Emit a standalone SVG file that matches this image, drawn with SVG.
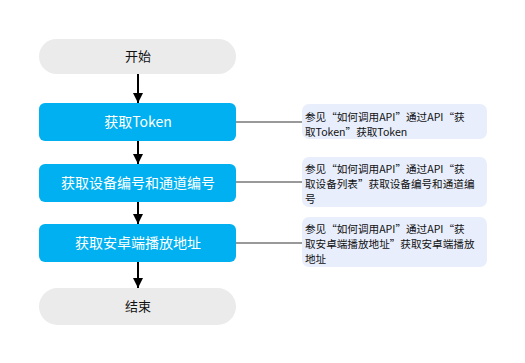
<svg xmlns="http://www.w3.org/2000/svg" width="525" height="363" viewBox="0 0 525 363">
<defs>
<marker id="ah" viewBox="0 0 10 10" refX="10" refY="5" markerWidth="10" markerHeight="10" markerUnits="userSpaceOnUse" orient="auto">
<path d="M0,0 L10,5 L0,10 z" fill="#000"/>
</marker>
<style>
.term{fill:#ebebeb;}
.proc{fill:#00b0f0;}
.note{fill:#e8eefc;}
.tt{font-family:"Noto Sans CJK SC","Noto Sans",sans-serif;font-size:13px;fill:#111;text-anchor:middle;}
.pt{font-family:"Noto Sans CJK SC","Noto Sans",sans-serif;font-size:14px;fill:#fff;text-anchor:middle;}
.nt{font-family:"Noto Sans CJK SC","Noto Sans",sans-serif;font-size:10.6px;fill:#111;}
.arr{stroke:#000;stroke-width:2;fill:none;marker-end:url(#ah);}
.lnk{stroke:#999;stroke-width:2;fill:none;}
</style>
</defs>
<rect width="525" height="363" fill="#fff"/>
<g id="connectors">
<line class="arr" x1="138" y1="74" x2="138" y2="103"/>
<line class="arr" x1="138" y1="141" x2="138" y2="164"/>
<line class="arr" x1="138" y1="202" x2="138" y2="224"/>
<line class="arr" x1="138" y1="262" x2="138" y2="288"/>
<line class="lnk" x1="236" y1="122" x2="302" y2="122"/>
<line class="lnk" x1="236" y1="182" x2="302" y2="182"/>
<line class="lnk" x1="236" y1="243" x2="302" y2="243"/>
</g>
<g id="start">
<rect class="term" x="39" y="39" width="197" height="35" rx="17.5"/>
<text class="tt" x="138" y="61">开始</text>
</g>
<g id="token">
<rect class="proc" x="39" y="103" width="197" height="38" rx="6"/>
<text class="pt" x="138" y="127">获取Token</text>
</g>
<g id="device">
<rect class="proc" x="39" y="164" width="197" height="38" rx="6"/>
<text class="pt" x="138" y="188">获取设备编号和通道编号</text>
</g>
<g id="address">
<rect class="proc" x="39" y="224" width="197" height="38" rx="6"/>
<text class="pt" x="138" y="248">获取安卓端播放地址</text>
</g>
<g id="end">
<rect class="term" x="39" y="288" width="197" height="37" rx="18.5"/>
<text class="tt" x="138" y="311">结束</text>
</g>
<g id="note1">
<rect class="note" x="302" y="104" width="185" height="35" rx="7"/>
<text class="nt" x="305" y="121">参见“如何调用API”通过API“获</text>
<text class="nt" x="305" y="136">取Token”获取Token</text>
</g>
<g id="note2">
<rect class="note" x="302" y="157" width="185" height="50" rx="7"/>
<text class="nt" x="305" y="173">参见“如何调用API”通过API“获</text>
<text class="nt" x="305" y="188">取设备列表”获取设备编号和通道编</text>
<text class="nt" x="305" y="203">号</text>
</g>
<g id="note3">
<rect class="note" x="302" y="217" width="185" height="50" rx="7"/>
<text class="nt" x="305" y="233">参见“如何调用API”通过API“获</text>
<text class="nt" x="305" y="248">取安卓端播放地址”获取安卓端播放</text>
<text class="nt" x="305" y="263">地址</text>
</g>
</svg>
